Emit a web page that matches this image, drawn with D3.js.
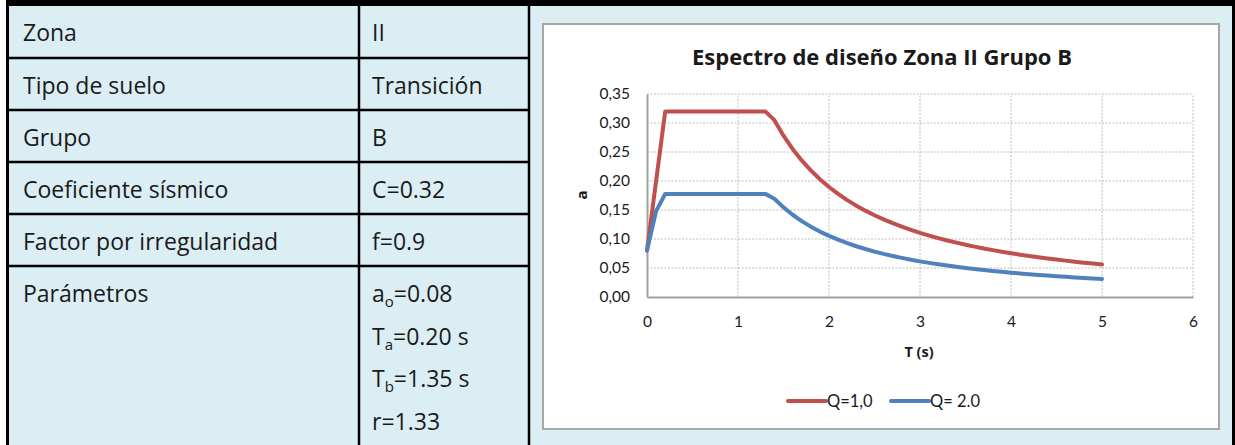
<!DOCTYPE html>
<html>
<head>
<meta charset="utf-8">
<script src="https://cdn.jsdelivr.net/npm/d3@7"></script>
<style>
  html, body { margin: 0; padding: 0; background: #ffffff; }
  svg { display: block; }
</style>
</head>
<body>
<svg id="sheet" width="1235" height="445"></svg>
<script>
// Parameter table (left block)
const tableLabels = ["Zona", "Tipo de suelo", "Grupo", "Coeficiente sísmico", "Factor por irregularidad", "Parámetros"];
const tableValues = ["II", "Transición", "B", "C=0.32", "f=0.9"];
// Parameter lines: [main, subscript, rest]
const paramLines = [["a", "o", "=0.08"], ["T", "a", "=0.20 s"], ["T", "b", "=1.35 s"], ["r", "", "=1.33"]];

// Design spectrum, period T (s)
const periods = [0.0, 0.1, 0.2, 0.3, 0.4, 0.5, 0.6, 0.7, 0.8, 0.9, 1.0, 1.1, 1.2, 1.3, 1.4, 1.5, 1.6, 1.7, 1.8, 1.9,
                 2.0, 2.1, 2.2, 2.3, 2.4, 2.5, 2.6, 2.7, 2.8, 2.9, 3.0, 3.1, 3.2, 3.3, 3.4, 3.5, 3.6, 3.7, 3.8, 3.9,
                 4.0, 4.1, 4.2, 4.3, 4.4, 4.5, 4.6, 4.7, 4.8, 4.9, 5.0];
// Spectral ordinate a for Q=1,0
const seriesQ1 = [0.080, 0.200, 0.320, 0.320, 0.320, 0.320, 0.320, 0.320, 0.320, 0.320, 0.320, 0.320, 0.320, 0.320,
                  0.3049, 0.2782, 0.2553, 0.2355, 0.2183, 0.2031, 0.1897, 0.1778, 0.1671, 0.1575, 0.1489, 0.1410,
                  0.1338, 0.1273, 0.1213, 0.1158, 0.1106, 0.1059, 0.1015, 0.0975, 0.0937, 0.0901, 0.0868, 0.0837,
                  0.0808, 0.0781, 0.0755, 0.0730, 0.0707, 0.0686, 0.0665, 0.0645, 0.0627, 0.0609, 0.0592, 0.0576, 0.0561];
// Spectral ordinate a for Q=2.0
const seriesQ2 = [0.080, 0.148, 0.1778, 0.1778, 0.1778, 0.1778, 0.1778, 0.1778, 0.1778, 0.1778, 0.1778, 0.1778, 0.1778, 0.1778,
                  0.1694, 0.1545, 0.1418, 0.1308, 0.1213, 0.1128, 0.1054, 0.0988, 0.0928, 0.0875, 0.0827, 0.0783,
                  0.0743, 0.0707, 0.0674, 0.0643, 0.0614, 0.0588, 0.0564, 0.0542, 0.0521, 0.0501, 0.0482, 0.0465,
                  0.0449, 0.0434, 0.0419, 0.0406, 0.0393, 0.0381, 0.0369, 0.0358, 0.0348, 0.0338, 0.0329, 0.0320, 0.0312];
const seriesNames = ["Q=1,0", "Q= 2.0"];
const seriesColors = ["#C0504D", "#4F81BD"];
const xTicks = [0, 1, 2, 3, 4, 5, 6];
const yTicks = [0.00, 0.05, 0.10, 0.15, 0.20, 0.25, 0.30, 0.35];
const chartTitle = "Espectro de diseño Zona II Grupo B";
const xTitle = "T (s)";
const yTitle = "a";

const svg = d3.select("#sheet");
const FONT = "'Open Sans', Lato, sans-serif";
const SMALL = "Lato, 'Open Sans', sans-serif";
const CELL = "#DAEEF3";

// ---------- table ----------
svg.append("rect").attr("x", 6).attr("y", 0).attr("width", 1229).attr("height", 445).attr("fill", CELL);

const rowY = [5, 58, 110, 162, 214, 266];
const colX = [7.5, 359, 529, 1233.5];
const rowH = 52;

const grid = svg.append("g").attr("stroke", "#000");
// outer borders
grid.append("line").attr("x1", 6).attr("x2", 1235).attr("y1", 3).attr("y2", 3).attr("stroke-width", 6);
grid.append("line").attr("x1", colX[0]).attr("x2", colX[0]).attr("y1", 0).attr("y2", 445).attr("stroke-width", 3);
grid.append("line").attr("x1", colX[3]).attr("x2", colX[3]).attr("y1", 0).attr("y2", 445).attr("stroke-width", 3);
// column dividers (left two columns)
[colX[1], colX[2]].forEach(x => {
  grid.append("line").attr("x1", x).attr("x2", x).attr("y1", 0).attr("y2", 445).attr("stroke-width", 2.5);
});
// row dividers
rowY.slice(1).forEach(y => {
  grid.append("line").attr("x1", colX[0]).attr("x2", colX[2]).attr("y1", y).attr("y2", y).attr("stroke-width", 2.5);
});

const tText = svg.append("g").attr("font-family", FONT).attr("font-size", 23).attr("fill", "#1a1a1a");
tableLabels.forEach((t, i) => {
  tText.append("text").attr("x", 23).attr("y", rowY[i] + rowH / 2 + 2).attr("dy", "0.35em").text(t);
});
tableValues.forEach((t, i) => {
  tText.append("text").attr("x", 372).attr("y", rowY[i] + rowH / 2 + 2).attr("dy", "0.35em").text(t);
});
paramLines.forEach((p, i) => {
  const tx = tText.append("text").attr("x", 372).attr("y", 294 + i * 42.5).attr("dy", "0.35em");
  tx.append("tspan").text(p[0]);
  if (p[1]) tx.append("tspan").attr("font-size", 15).attr("dy", 5).text(p[1]);
  tx.append("tspan").attr("dy", p[1] ? -5 : 0).text(p[2]);
});

// ---------- chart ----------
svg.append("rect").attr("x", 543).attr("y", 24).attr("width", 676).attr("height", 405)
  .attr("fill", "#fff").attr("stroke", "#a6a6a6").attr("stroke-width", 2);

const x = d3.scaleLinear().domain([0, 6]).range([647, 1193]);
const y = d3.scaleLinear().domain([0, 0.35]).range([297, 94]);
const locale = d3.formatLocale({ decimal: ",", thousands: ".", grouping: [3], currency: ["", ""] });
const fmt = locale.format(".2f");

const chart = svg.append("g");

// dotted gridlines
chart.append("g").selectAll("line").data(yTicks.filter(v => v > 0)).join("line")
  .attr("x1", x(0)).attr("x2", x(6)).attr("y1", d => y(d)).attr("y2", d => y(d))
  .attr("stroke", "#bdbdbd").attr("stroke-width", 1).attr("stroke-dasharray", "2,1.5");
chart.append("g").selectAll("line").data(xTicks.filter(v => v > 0)).join("line")
  .attr("x1", d => x(d)).attr("x2", d => x(d)).attr("y1", y(0)).attr("y2", y(0.35))
  .attr("stroke", "#bdbdbd").attr("stroke-width", 1).attr("stroke-dasharray", "2,1.5");

// axes
const yAxis = chart.append("g").attr("transform", `translate(${x(0)},0)`)
  .call(d3.axisLeft(y).tickValues(yTicks).tickFormat(fmt).tickSize(0).tickPadding(17));
const xAxis = chart.append("g").attr("transform", `translate(0,${y(0)})`)
  .call(d3.axisBottom(x).tickValues(xTicks).tickFormat(d3.format("d")).tickSize(0).tickPadding(19));
[yAxis, xAxis].forEach(a => {
  a.select(".domain").attr("stroke", "#a0a0a0").attr("stroke-width", 2);
  a.selectAll("text").attr("font-family", SMALL).attr("font-size", 15.5).attr("fill", "#1a1a1a");
});

// series lines
const line = d3.line().x((d, i) => x(periods[i])).y(d => y(d));
[seriesQ1, seriesQ2].forEach((s, k) => {
  chart.append("path").datum(s).attr("d", line).attr("fill", "none")
    .attr("stroke", seriesColors[k]).attr("stroke-width", 4)
    .attr("stroke-linejoin", "round").attr("stroke-linecap", "round");
});

// titles
chart.append("text").attr("x", 882).attr("y", 57).attr("dy", "0.35em").attr("text-anchor", "middle")
  .attr("font-family", FONT).attr("font-weight", "bold").attr("font-size", 22).attr("fill", "#1a1a1a").text(chartTitle);
chart.append("text").attr("x", 919).attr("y", 352).attr("dy", "0.35em").attr("text-anchor", "middle")
  .attr("font-family", FONT).attr("font-weight", "bold").attr("font-size", 14.5).attr("fill", "#1a1a1a").text(xTitle);
chart.append("text").attr("transform", "translate(582,195) rotate(-90)").attr("dy", "0.35em").attr("text-anchor", "middle")
  .attr("font-family", FONT).attr("font-weight", "bold").attr("font-size", 15).attr("fill", "#1a1a1a").text(yTitle);

// legend
const legendX = [788, 891];
seriesNames.forEach((n, k) => {
  const g = chart.append("g").attr("transform", `translate(${legendX[k]},401)`);
  g.append("line").attr("x1", 0).attr("x2", 38).attr("y1", 0).attr("y2", 0)
    .attr("stroke", seriesColors[k]).attr("stroke-width", 4).attr("stroke-linecap", "round");
  g.append("text").attr("x", 39).attr("y", 0).attr("dy", "0.35em")
    .attr("font-family", SMALL).attr("font-size", 16.5).attr("fill", "#1a1a1a").text(n);
});
</script>
</body>
</html>
